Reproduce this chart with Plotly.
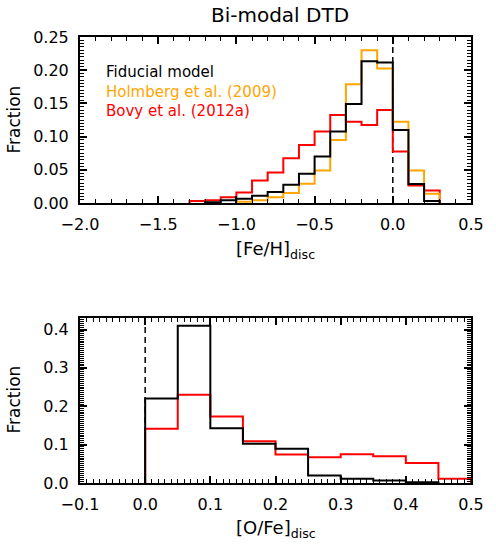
import plotly.graph_objects as go

# ---------------- data ----------------
# Top panel: [Fe/H] histograms, bin width 0.1
feh_left_edges = [-1.3, -1.2, -1.1, -1.0, -0.9, -0.8, -0.7, -0.6, -0.5, -0.4,
                  -0.3, -0.2, -0.1, 0.0, 0.1, 0.2]
feh_width = 0.1
feh_fiducial = [0.0, 0.001, 0.004, 0.0065, 0.011, 0.0165, 0.0275, 0.044, 0.070, 0.1075,
                0.149, 0.2135, 0.2115, 0.110, 0.0285, 0.003]
feh_holmberg = [0.0, 0.0, 0.0, 0.002, 0.004, 0.0085, 0.015, 0.029, 0.049, 0.095,
                0.179, 0.230, 0.2025, 0.1225, 0.049, 0.014]
feh_bovy = [0.003, 0.004, 0.0085, 0.016, 0.034, 0.046, 0.0675, 0.0875, 0.1075, 0.1325,
            0.1225, 0.1175, 0.140, 0.0775, 0.0265, 0.019]

# Bottom panel: [O/Fe] histograms, bin width 0.05
ofe_left_edges = [0.0, 0.05, 0.10, 0.15, 0.20, 0.25, 0.30, 0.35, 0.40, 0.45]
ofe_width = 0.05
ofe_fiducial = [0.220, 0.410, 0.143, 0.102, 0.089, 0.0195, 0.011, 0.0065, 0.002, 0.0]
ofe_bovy = [0.1415, 0.230, 0.173, 0.109, 0.074, 0.067, 0.075, 0.070, 0.052, 0.011]

# axis ranges and reference (solar) value
feh_range = [-2.0, 0.5]
feh_frac_range = [0.0, 0.25]
ofe_range = [-0.1, 0.5]
ofe_frac_range = [0.0, 0.43]
solar_value = 0.0

legend_labels = ["Fiducial model", "Holmberg et al. (2009)", "Bovy et al. (2012a)"]
colors = {"fid": "#000000", "holm": "#FFA500", "bovy": "#FF0000"}

FONT = "DejaVu Sans"
TICKC = "black"

def step_xy(left_edges, width, values):
    idx = [i for i, v in enumerate(values) if v > 0]
    i0, i1 = idx[0], idx[-1]
    xs = [left_edges[i0]]
    ys = [0.0]
    for i in range(i0, i1 + 1):
        xs.append(left_edges[i])
        ys.append(values[i])
    xs.append(left_edges[i1] + width)
    ys.append(values[i1])
    xs.append(left_edges[i1] + width)
    ys.append(0.0)
    return xs, ys

fig = go.Figure()

# dashed reference lines at solar value (drawn first, beneath histograms)
fig.add_trace(go.Scatter(x=[solar_value, solar_value], y=feh_frac_range, mode="lines",
                         line=dict(color="black", width=1.5, dash="6px,4px"),
                         xaxis="x", yaxis="y", showlegend=False, hoverinfo="skip"))
fig.add_trace(go.Scatter(x=[solar_value, solar_value], y=ofe_frac_range, mode="lines",
                         line=dict(color="black", width=1.5, dash="6px,4px"),
                         xaxis="x2", yaxis="y2", showlegend=False, hoverinfo="skip"))

def add_hist(left, width, vals, color, xa, ya):
    xs, ys = step_xy(left, width, vals)
    fig.add_trace(go.Scatter(x=xs, y=ys, mode="lines", line_shape="hv",
                             line=dict(color=color, width=2),
                             xaxis=xa, yaxis=ya, showlegend=False,
                             hoverinfo="skip"))

add_hist(feh_left_edges, feh_width, feh_bovy, colors["bovy"], "x", "y")
add_hist(feh_left_edges, feh_width, feh_holmberg, colors["holm"], "x", "y")
add_hist(feh_left_edges, feh_width, feh_fiducial, colors["fid"], "x", "y")
add_hist(ofe_left_edges, ofe_width, ofe_bovy, colors["bovy"], "x2", "y2")
add_hist(ofe_left_edges, ofe_width, ofe_fiducial, colors["fid"], "x2", "y2")

W, H = 496, 544
L, R, T, B = 80, 16, 37, 61
PH = H - T - B  # 446

def py(pix):
    return (H - B - pix) / PH

def px(pix):
    return (pix - L) / (W - L - R)

def minor(dt):
    return dict(dtick=dt, ticks="inside", ticklen=4, tickwidth=1, tickcolor=TICKC)

axis_common = dict(showline=True, linecolor="black", linewidth=2, mirror="ticks",
                   ticks="inside", ticklen=7, tickwidth=2, tickcolor=TICKC,
                   showgrid=False, zeroline=False, ticklabelstandoff=6,
                   tickfont=dict(family=FONT, size=16, color="black"))

fig.update_layout(
    width=W, height=H,
    margin=dict(l=L, r=R, t=T, b=B),
    plot_bgcolor="rgba(0,0,0,0)", paper_bgcolor="white",
    font=dict(family=FONT, color="black"),
    xaxis=dict(domain=[0, 1], anchor="y", range=feh_range, dtick=0.5, tickformat=".1f",
               minor=minor(0.1), **axis_common),
    yaxis=dict(domain=[py(203), 1.0], anchor="x", range=feh_frac_range, dtick=0.05, tickformat=".2f",
               minor=minor(0.005), **axis_common),
    xaxis2=dict(domain=[0, 1], anchor="y2", range=ofe_range, dtick=0.1, tickformat=".1f",
                minor=minor(0.01), **axis_common),
    yaxis2=dict(domain=[0, py(318)], anchor="x2", range=ofe_frac_range, dtick=0.1, tickformat=".1f",
                minor=minor(0.005), **axis_common),
    title=dict(text="Bi-modal DTD", x=280 / W, xanchor="center", y=1 - 15 / H, yanchor="middle",
               font=dict(family=FONT, size=20, color="black")),
    showlegend=False,
)

ann = []
for lab, col, ypix in zip(legend_labels, [colors["fid"], colors["holm"], colors["bovy"]],
                          [72, 92, 111]):
    ann.append(dict(text=lab, xref="paper", yref="paper", x=px(105), y=py(ypix),
                    xanchor="left", yanchor="middle", showarrow=False,
                    font=dict(family=FONT, size=15, color=col)))
ann.append(dict(text="[Fe/H]<sub>disc</sub>", xref="paper", yref="paper", x=0.5, y=py(236),
                xanchor="center", yanchor="top", showarrow=False,
                font=dict(family=FONT, size=18, color="black")))
ann.append(dict(text="[O/Fe]<sub>disc</sub>", xref="paper", yref="paper", x=0.5, y=py(515),
                xanchor="center", yanchor="top", showarrow=False,
                font=dict(family=FONT, size=18, color="black")))
ann.append(dict(text="Fraction", xref="paper", yref="paper", x=px(12), y=py(120),
                xanchor="center", yanchor="middle", textangle=-90, showarrow=False,
                font=dict(family=FONT, size=17, color="black")))
ann.append(dict(text="Fraction", xref="paper", yref="paper", x=px(12), y=py(400),
                xanchor="center", yanchor="middle", textangle=-90, showarrow=False,
                font=dict(family=FONT, size=17, color="black")))
fig.update_layout(annotations=ann)

fig.write_html("out.html")
